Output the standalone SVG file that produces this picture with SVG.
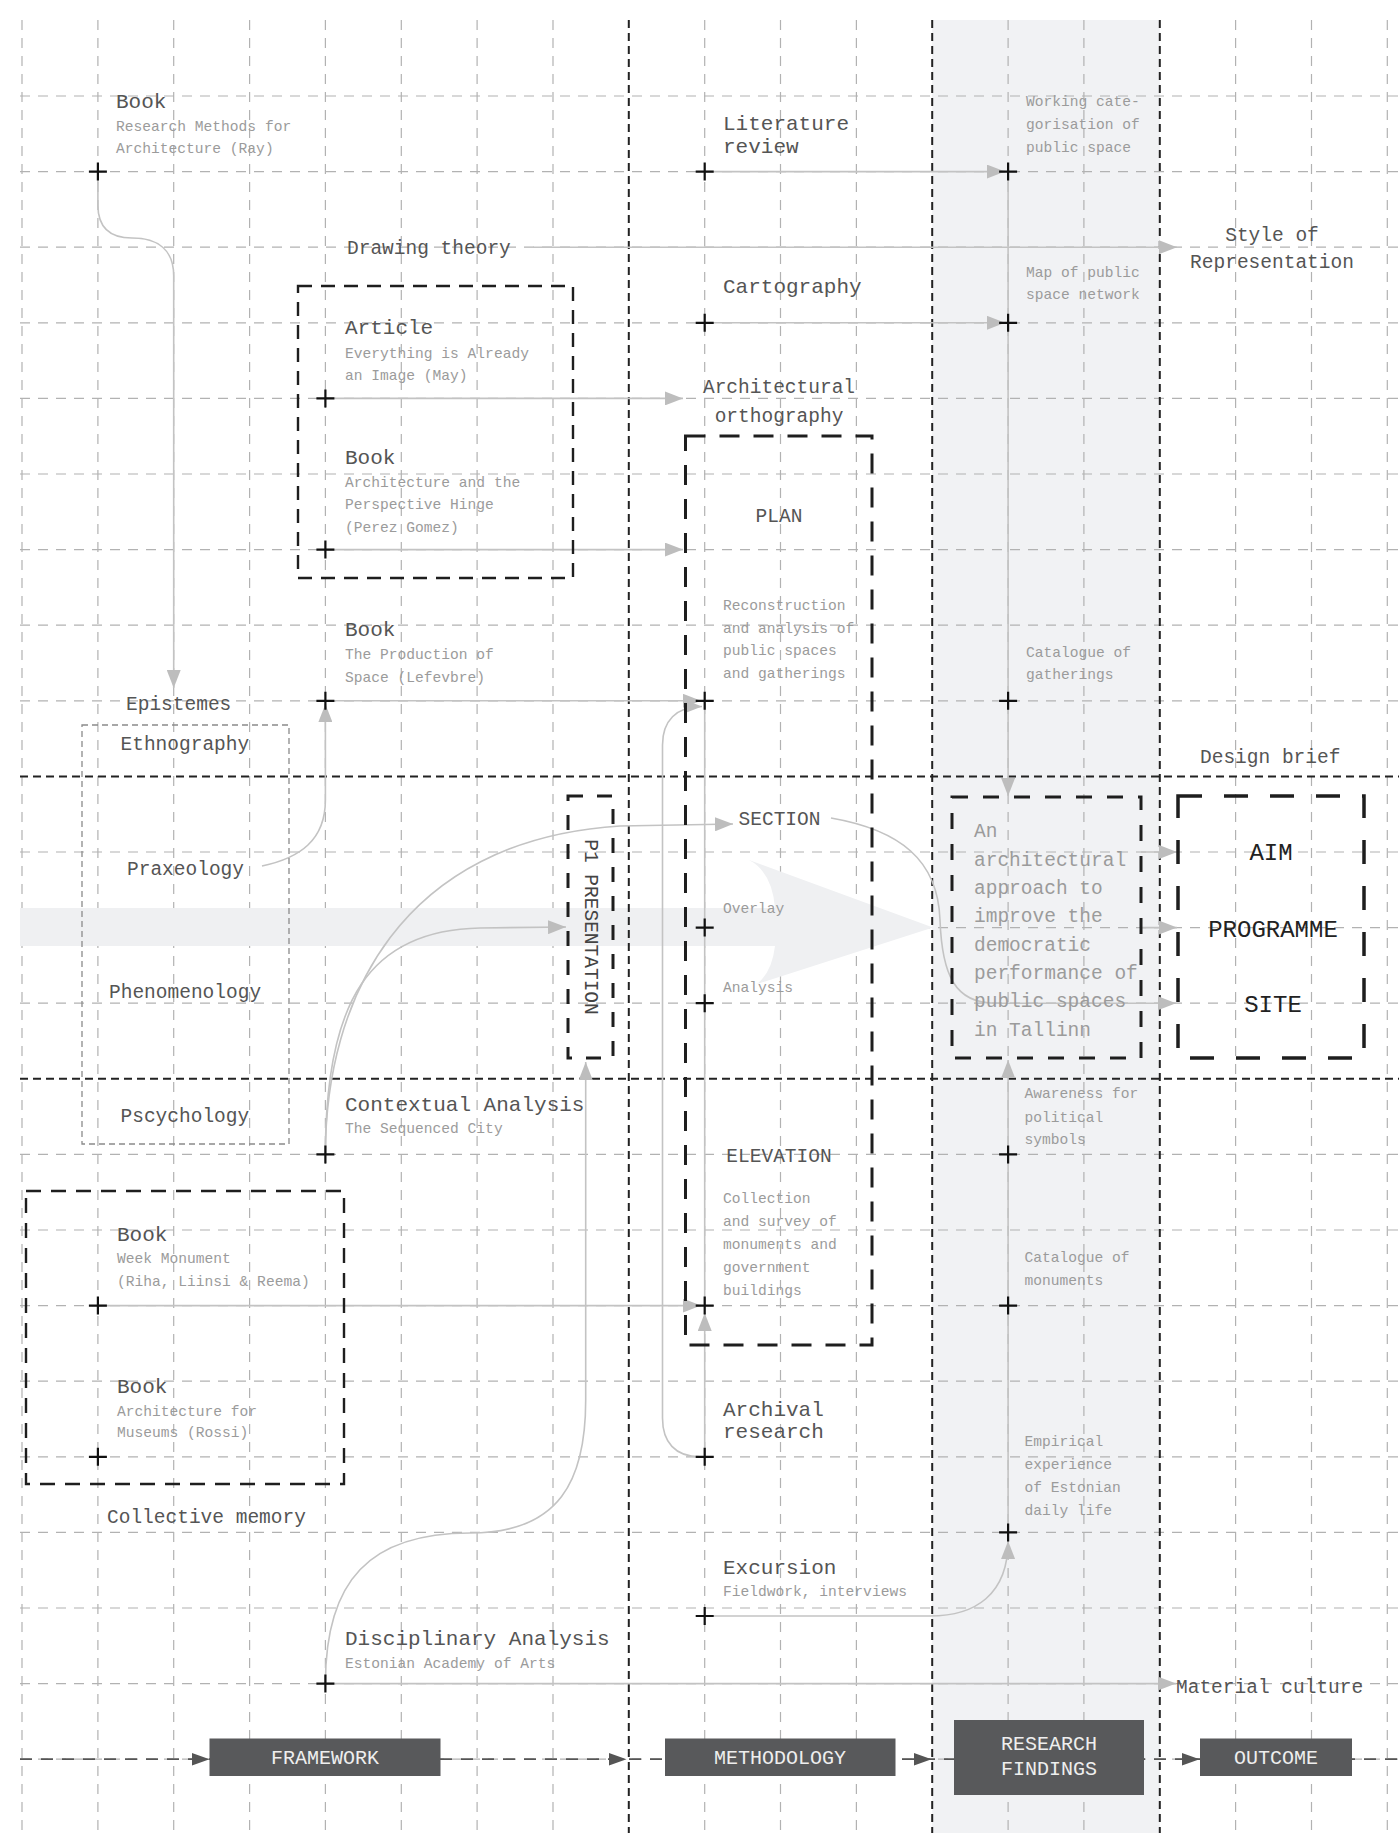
<svg xmlns="http://www.w3.org/2000/svg" width="1399" height="1833" viewBox="0 0 1399 1833">
  <style>
    text { font-family: "Liberation Mono", "DejaVu Sans Mono", monospace; }
    .t { font-size: 21px; fill: #555; }
    .l { font-size: 19.5px; fill: #555; }
    .s { font-size: 14.6px; fill: #9b9b9b; }
    .a { font-size: 19.5px; fill: #9b9b9b; }
    .k { font-size: 24px; fill: #222; }
    .b { font-size: 20px; fill: #eee; }
    .m { text-anchor: middle; }
    .grid { fill: none; stroke: #b2b2b2; stroke-width: 1.2; stroke-dasharray: 10 8; }
    .sep { fill: none; stroke: #222; stroke-width: 2; stroke-dasharray: 8 5; }
    .box { fill: none; stroke: #1e1e1e; }
    .con { fill: none; stroke: #c3c3c3; stroke-width: 1.6; }
    .ar { marker-end: url(#ah); }
    .flowbox { fill: #58595b; }
  </style>
  <defs>
    <marker id="ah" markerUnits="userSpaceOnUse" markerWidth="18" markerHeight="14" viewBox="0 0 18 14" refX="18" refY="7" orient="auto">
      <path d="M0 0L18 7L0 14z" fill="#bdbdbd"/>
    </marker>
    <path id="plus" d="M-9 0H9M0-9V9" stroke="#111" stroke-width="2.2" fill="none"/>
  </defs>

  <!-- shaded findings column -->
  <rect x="932.2" y="20" width="227.6" height="1813" fill="#f1f2f4"/>

  <!-- background grid -->
  <g id="grid">
    <path class="grid" d="M22 20V1833M97.9 20V1833M173.7 20V1833M249.6 20V1833M325.4 20V1833M401.3 20V1833M477.1 20V1833M553 20V1833M704.7 20V1833M780.5 20V1833M856.4 20V1833M1008.1 20V1833M1083.9 20V1833M1235.6 20V1833M1311.5 20V1833M1387.3 20V1833"/>
    <path class="grid" d="M20 96H1399M20 171.6H1399M20 247.2H1399M20 322.8H1399M20 398.4H1399M20 474H1399M20 549.6H1399M20 625.2H1399M20 700.8H1399M20 852H1399M20 927.6H1399M20 1003.2H1399M20 1154.4H1399M20 1230H1399M20 1305.6H1399M20 1381.2H1399M20 1456.8H1399M20 1532.4H1399M20 1608H1399M20 1683.6H1399M20 1759.2H1399"/>
  </g>

  <!-- broad overlay arrow -->
  <path id="overlay-arrow" d="M20 908H775Q772 872 749 860L933 927.6L757 984Q772 972 775 946H20Z" fill="#eff0f2"/>

  <!-- stage separators -->
  <g id="separators">
    <path class="sep" d="M628.8 20V1833M932.2 20V1833M1159.8 20V1833"/>
    <path class="sep" d="M20 776.4H1399M20 1078.8H1399"/>
  </g>

  <!-- connectors -->
  <g id="connectors">
    <path class="con ar" d="M97.9 171.6V205C97.9 228 110 238 132 238C158 238 173.7 250 173.7 276V688"/>
    <path class="con ar" d="M533 247.2H1177"/>
    <path class="con ar" d="M704.7 171.6H1005"/>
    <path class="con ar" d="M1008.1 171.6V796"/>
    <path class="con ar" d="M704.7 322.8H1005"/>
    <path class="con ar" d="M325.4 398.4H683"/>
    <path class="con ar" d="M325.4 549.6H683"/>
    <path class="con ar" d="M325.4 700.8H701"/>
    <path class="con ar" d="M262 866C300 858 325.4 840 325.4 800V704"/>
    <path class="con ar" d="M700 1456.8C675 1456.8 662.5 1442 662.5 1418V745C662.5 721 676 706.5 702 706.5"/>
    <path class="con" d="M704.7 700.8V1305.6"/>
    <path class="con ar" d="M704.7 1456.8V1313"/>
    <path class="con ar" d="M97.9 1305.6H701"/>
    <path class="con ar" d="M325.4 1154.4C325.4 1000 400 840 620 826L733 824"/>
    <path class="con ar" d="M325.4 1154.4C325.4 1000 370 930 480 928L566 927"/>
    <path class="con ar" d="M325.4 1683.6C325.4 1580 370 1533 470 1533C560 1533 585.7 1480 585.7 1400V1062"/>
    <path class="con ar" d="M325.4 1683.6H1176"/>
    <path class="con ar" d="M831 818C900 830 938 860 940 920C942 975 955 1003.2 995 1003.2H1176"/>
    <path class="con ar" d="M1141 852H1177"/>
    <path class="con ar" d="M1141 927.6H1177"/>
    <path class="con ar" d="M704.7 1616H930C975 1616 1008 1595 1008.1 1541"/>
    <path class="con ar" d="M1008.1 1532.4V1060"/>
  </g>

  <!-- framework column -->
  <g id="book-ray">
    <use href="#plus" x="97.9" y="171.6"/>
    <text class="t" x="116" y="108">Book</text>
    <text class="s" x="116" y="131">Research Methods for</text>
    <text class="s" x="116" y="153">Architecture (Ray)</text>
  </g>
  <g id="drawing-theory">
    <text class="l" x="347" y="254">Drawing theory</text>
  </g>
  <g id="reading-group">
    <rect class="box" x="298" y="286" width="275" height="292" stroke-width="2.4" stroke-dasharray="14 9"/>
  </g>
  <g id="article-may">
    <use href="#plus" x="325.4" y="398.4"/>
    <text class="t" x="345" y="334">Article</text>
    <text class="s" x="345" y="357.7">Everything is Already</text>
    <text class="s" x="345" y="380">an Image (May)</text>
  </g>
  <g id="book-perez-gomez">
    <use href="#plus" x="325.4" y="549.6"/>
    <text class="t" x="345" y="464.3">Book</text>
    <text class="s" x="345" y="486.7">Architecture and the</text>
    <text class="s" x="345" y="509.3">Perspective Hinge</text>
    <text class="s" x="345" y="531.7">(Perez Gomez)</text>
  </g>
  <g id="book-lefevbre">
    <use href="#plus" x="325.4" y="700.8"/>
    <text class="t" x="345" y="636">Book</text>
    <text class="s" x="345" y="658.7">The Production of</text>
    <text class="s" x="345" y="681.7">Space (Lefevbre)</text>
  </g>
  <g id="epistemes">
    <text class="l" x="126" y="710">Epistemes</text>
    <rect x="82" y="725" width="207" height="419" fill="none" stroke="#8a8a8a" stroke-width="1.3" stroke-dasharray="6 4"/>
    <text class="l" x="120.5" y="750">Ethnography</text>
    <text class="l" x="127" y="875">Praxeology</text>
    <text class="l" x="109" y="998">Phenomenology</text>
    <text class="l" x="120.5" y="1121.7">Pscychology</text>
  </g>
  <g id="p1-presentation">
    <rect class="box" x="568" y="796" width="45" height="262" stroke-width="3" stroke-dasharray="15 14"/>
    <text class="l" style="fill:#444" text-anchor="middle" transform="translate(590.7 927) rotate(90)" y="6">P1 PRESENTATION</text>
  </g>
  <g id="contextual-analysis">
    <use href="#plus" x="325.4" y="1154.4"/>
    <text class="t" x="345" y="1111">Contextual Analysis</text>
    <text class="s" x="345" y="1133.3">The Sequenced City</text>
  </g>
  <g id="memory-group">
    <rect class="box" x="26" y="1191" width="318" height="293" stroke-width="2.4" stroke-dasharray="15 10"/>
  </g>
  <g id="book-week-monument">
    <use href="#plus" x="97.9" y="1305.6"/>
    <text class="t" x="117" y="1240.7">Book</text>
    <text class="s" x="117" y="1263.3">Week Monument</text>
    <text class="s" x="117" y="1286">(Riha, Liinsi &amp; Reema)</text>
  </g>
  <g id="book-rossi">
    <use href="#plus" x="97.9" y="1456.8"/>
    <text class="t" x="117" y="1393">Book</text>
    <text class="s" x="117" y="1415.8">Architecture for</text>
    <text class="s" x="117" y="1437">Museums (Rossi)</text>
  </g>
  <g id="collective-memory">
    <text class="l" x="107" y="1523.4">Collective memory</text>
  </g>
  <g id="disciplinary-analysis">
    <use href="#plus" x="325.4" y="1683.6"/>
    <text class="t" x="345" y="1645">Disciplinary Analysis</text>
    <text class="s" x="345" y="1668">Estonian Academy of Arts</text>
  </g>

  <!-- methodology column -->
  <g id="literature-review">
    <use href="#plus" x="704.7" y="171.6"/>
    <text class="t" x="723" y="130">Literature</text>
    <text class="t" x="723" y="152.7">review</text>
  </g>
  <g id="cartography">
    <use href="#plus" x="704.7" y="322.8"/>
    <text class="t" x="723" y="293.3">Cartography</text>
  </g>
  <g id="architectural-orthography">
    <text class="l m" x="779" y="393">Architectural</text>
    <text class="l m" x="779" y="421.7">orthography</text>
    <rect class="box" x="685.5" y="436" width="186.5" height="909" stroke-width="3" stroke-dasharray="20 14"/>
  </g>
  <g id="plan">
    <use href="#plus" x="704.7" y="700.8"/>
    <text class="l m" x="779" y="521.7">PLAN</text>
    <text class="s" x="723" y="610">Reconstruction</text>
    <text class="s" x="723" y="632.7">and analysis of</text>
    <text class="s" x="723" y="655">public spaces</text>
    <text class="s" x="723" y="677.7">and gatherings</text>
  </g>
  <g id="section">
    <text class="l m" x="779.5" y="825">SECTION</text>
    <use href="#plus" x="704.7" y="927.6"/>
    <text class="s" x="723" y="913.3">Overlay</text>
    <use href="#plus" x="704.7" y="1003.2"/>
    <text class="s" x="723" y="991.7">Analysis</text>
  </g>
  <g id="elevation">
    <use href="#plus" x="704.7" y="1305.6"/>
    <text class="l m" x="779" y="1161.7">ELEVATION</text>
    <text class="s" x="723" y="1203">Collection</text>
    <text class="s" x="723" y="1226">and survey of</text>
    <text class="s" x="723" y="1249">monuments and</text>
    <text class="s" x="723" y="1272">government</text>
    <text class="s" x="723" y="1295">buildings</text>
  </g>
  <g id="archival-research">
    <use href="#plus" x="704.7" y="1456.8"/>
    <text class="t" x="723" y="1415.8">Archival</text>
    <text class="t" x="723" y="1437.7">research</text>
  </g>
  <g id="excursion">
    <use href="#plus" x="704.7" y="1616"/>
    <text class="t" x="723" y="1573.5">Excursion</text>
    <text class="s" x="723" y="1596.4">Fieldwork, interviews</text>
  </g>

  <!-- research findings column -->
  <g id="categorisation">
    <use href="#plus" x="1008.1" y="171.6"/>
    <text class="s" x="1026" y="106">Working cate-</text>
    <text class="s" x="1026" y="129.3">gorisation of</text>
    <text class="s" x="1026" y="151.7">public space</text>
  </g>
  <g id="network-map">
    <use href="#plus" x="1008.1" y="322.8"/>
    <text class="s" x="1026" y="276.7">Map of public</text>
    <text class="s" x="1026" y="298.7">space network</text>
  </g>
  <g id="gatherings-catalogue">
    <use href="#plus" x="1008.1" y="700.8"/>
    <text class="s" x="1026" y="656.7">Catalogue of</text>
    <text class="s" x="1026" y="679.3">gatherings</text>
  </g>
  <g id="approach">
    <rect class="box" x="952" y="797" width="189" height="261" stroke-width="3" stroke-dasharray="16 15"/>
    <text class="a" x="974" y="837">An</text>
    <text class="a" x="974" y="865.5">architectural</text>
    <text class="a" x="974" y="894">approach to</text>
    <text class="a" x="974" y="922">improve the</text>
    <text class="a" x="974" y="950.5">democratic</text>
    <text class="a" x="974" y="979">performance of</text>
    <text class="a" x="974" y="1007">public spaces</text>
    <text class="a" x="974" y="1035.5">in Tallinn</text>
  </g>
  <g id="political-symbols">
    <use href="#plus" x="1008.1" y="1154.4"/>
    <text class="s" x="1024.5" y="1098.3">Awareness for</text>
    <text class="s" x="1024.5" y="1121.7">political</text>
    <text class="s" x="1024.5" y="1144">symbols</text>
  </g>
  <g id="monuments-catalogue">
    <use href="#plus" x="1008.1" y="1305.6"/>
    <text class="s" x="1024.5" y="1261.7">Catalogue of</text>
    <text class="s" x="1024.5" y="1285">monuments</text>
  </g>
  <g id="daily-life">
    <use href="#plus" x="1008.1" y="1532.4"/>
    <text class="s" x="1024.5" y="1446">Empirical</text>
    <text class="s" x="1024.5" y="1469">experience</text>
    <text class="s" x="1024.5" y="1492">of Estonian</text>
    <text class="s" x="1024.5" y="1515">daily life</text>
  </g>

  <!-- outcome column -->
  <g id="style-of-representation">
    <text class="l m" x="1272" y="240.7">Style of</text>
    <text class="l m" x="1272" y="268">Representation</text>
  </g>
  <g id="design-brief">
    <text class="l" x="1200" y="763.3">Design brief</text>
    <rect class="box" x="1178" y="796" width="186" height="262" stroke-width="3.5" stroke-dasharray="24 22"/>
    <text class="k m" x="1271" y="860">AIM</text>
    <text class="k m" x="1273" y="937">PROGRAMME</text>
    <text class="k m" x="1273" y="1012">SITE</text>
  </g>
  <g id="material-culture">
    <text class="l" x="1176" y="1692.7">Material culture</text>
  </g>

  <!-- process stages -->
  <g id="process-flow">
    <path d="M20 1759.2H1399" fill="none" stroke="#555" stroke-width="1.8" stroke-dasharray="12 9"/>
    <path d="M192 1753L209.5 1759.2L192 1765.4zM609 1753L626.5 1759.2L609 1765.4zM914 1753L931.5 1759.2L914 1765.4zM1182 1753L1199.5 1759.2L1182 1765.4z" fill="#555"/>
  </g>
  <g id="stage-framework">
    <rect class="flowbox" x="209.5" y="1738.5" width="231" height="37.5"/>
    <text class="b m" x="325" y="1764">FRAMEWORK</text>
  </g>
  <g id="stage-methodology">
    <rect class="flowbox" x="665" y="1738.5" width="230.5" height="37.5"/>
    <text class="b m" x="780" y="1764">METHODOLOGY</text>
  </g>
  <g id="stage-findings">
    <rect class="flowbox" x="954" y="1720" width="190" height="75"/>
    <text class="b m" x="1049" y="1750">RESEARCH</text>
    <text class="b m" x="1049" y="1775">FINDINGS</text>
  </g>
  <g id="stage-outcome">
    <rect class="flowbox" x="1200" y="1738.5" width="152" height="37.5"/>
    <text class="b m" x="1276" y="1764">OUTCOME</text>
  </g>
</svg>
